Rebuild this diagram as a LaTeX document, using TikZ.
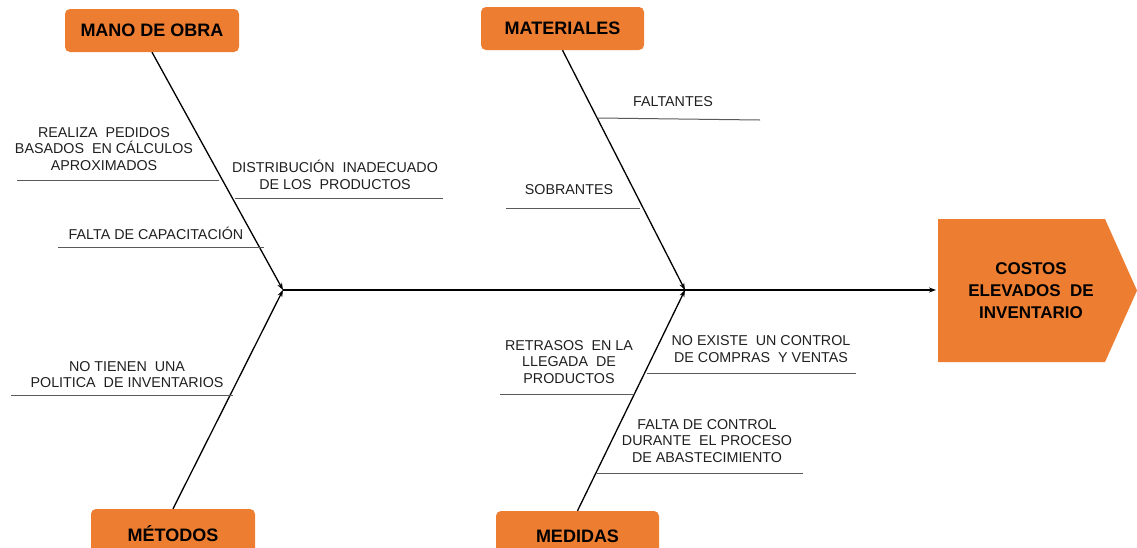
\documentclass[tikz,border=0pt]{standalone}
\usepackage{fontspec}
\setmainfont{Liberation Sans}
\usetikzlibrary{arrows.meta}
\definecolor{naranja}{HTML}{ED7D31}
\definecolor{gris}{HTML}{5A5A5A}
\tikzset{
  categoria/.style={fill=naranja, rounded corners=5pt, inner sep=0pt,
    font=\fontsize{18}{20}\selectfont\bfseries},
  causa/.style={align=center, inner sep=0pt, text=black!88,
    font=\fontsize{14.3}{16.5}\selectfont},
  hueso/.style={line width=1.3pt, -{Stealth[length=7pt,width=5pt]}},
  rama/.style={gris, line width=1pt}
}
\begin{document}
\begin{tikzpicture}[x=1pt, y=-1pt]
\useasboundingbox (0,0) rectangle (1137,547);

% categorias
\node [categoria, minimum width=174pt, minimum height=43pt] (mano) at (152,30.5) {MANO DE OBRA};
\node [categoria, minimum width=163pt, minimum height=43pt] (materiales) at (562.5,28.5) {MATERIALES};
\node [categoria, minimum width=164pt, minimum height=50pt] (metodos) at (173,534) {MÉTODOS};
\node [categoria, minimum width=163pt, minimum height=50pt] (medidas) at (577.5,536) {MEDIDAS};

% efecto
\fill [naranja] (938,219) -- (1105,219) -- (1137,290.5) -- (1105,362) -- (938,362) -- cycle;
\node [align=center, font=\fontsize{17}{22}\selectfont\bfseries] (costos) at (1031,291) {COSTOS\\ELEVADOS\ \ DE\\INVENTARIO};

% espina
\coordinate (cola) at (283,290);
\coordinate (cruce) at (685,290);
\coordinate (entrada) at (936,290);
\draw [line width=1.3pt] (cola) -- (cruce);
\draw [hueso] (cruce) -- (entrada);
\draw [hueso] (mano.south) -- (cola);
\draw [hueso] (metodos.north) -- (cola);
\draw [hueso] (materiales.south) -- (cruce);
\draw [hueso] (medidas.north) -- (cruce);

% ramas
\draw [rama] (17,180) -- (219,180);
\draw [rama] (235,198) -- (443,198);
\draw [rama] (58,247) -- (264,247);
\draw [rama] (598,118) -- (760,120);
\draw [rama] (506,208) -- (640,208);
\draw [rama] (11,395) -- (233,395);
\draw [rama] (500,394) -- (633,394);
\draw [rama] (647,373) -- (856,373);
\draw [rama] (597,473) -- (803,473);

% causas
\node [causa] (pedidos) at (104,149) {REALIZA\ \ PEDIDOS\\BASADOS\ \ EN CÁLCULOS\\APROXIMADOS};
\node [causa] (distribucion) at (335,175) {DISTRIBUCIÓN\ \ INADECUADO\\DE LOS\ \ PRODUCTOS};
\node [causa] (capacitacion) at (156,233) {FALTA DE CAPACITACIÓN};
\node [causa] (faltantes) at (673,102) {FALTANTES};
\node [causa] (sobrantes) at (569,190) {SOBRANTES};
\node [causa] (politica) at (127,374.5) {NO TIENEN\ \ UNA\\POLITICA\ \ DE INVENTARIOS};
\node [causa] (retrasos) at (569,362) {RETRASOS\ \ EN LA\\LLEGADA\ \ DE\\PRODUCTOS};
\node [causa] (control) at (761,349) {NO EXISTE\ \ UN CONTROL\\DE COMPRAS\ \ Y VENTAS};
\node [causa] (abastecimiento) at (707,441) {FALTA DE CONTROL\\DURANTE\ \ EL PROCESO\\DE ABASTECIMIENTO};
\end{tikzpicture}
\end{document}
